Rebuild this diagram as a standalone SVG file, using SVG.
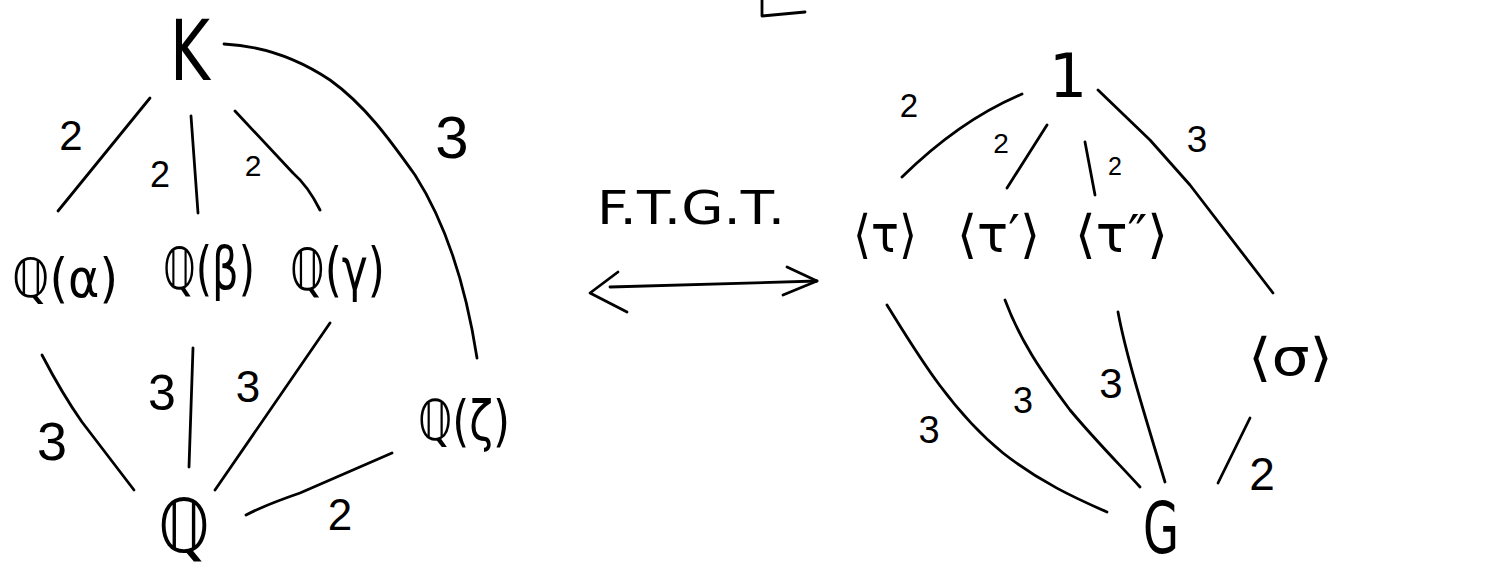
<svg xmlns="http://www.w3.org/2000/svg" width="1510" height="571" viewBox="0 0 1510 571">
  <style>
    .edge { fill: none; stroke: #000; stroke-width: 2.8; stroke-linecap: round; stroke-linejoin: round; }
    .node { font-family: "DejaVu Sans", "Liberation Sans", sans-serif; fill: #000; }
    .lbl { font-family: "Liberation Sans", "DejaVu Sans", sans-serif; fill: #000; text-anchor: middle; }
  </style>
  <rect width="1510" height="571" fill="#fff"/>

  <!-- stroke fragment at the top edge -->
  <path class="edge" d="M762,0 L762,16 L805,12"/>

  <!-- field lattice (left) -->
  <g id="node-K"><text class="node" x="170" y="80" font-size="84" textLength="40" lengthAdjust="spacingAndGlyphs">K</text></g>
  <g id="node-Qalpha"><text class="node" x="12" y="297" font-size="54" textLength="106" lengthAdjust="spacingAndGlyphs">ℚ(α)</text></g>
  <g id="node-Qbeta"><text class="node" x="163" y="289" font-size="58" textLength="92" lengthAdjust="spacingAndGlyphs">ℚ(β)</text></g>
  <g id="node-Qgamma"><text class="node" x="290" y="290" font-size="58" textLength="95" lengthAdjust="spacingAndGlyphs">ℚ(γ)</text></g>
  <g id="node-Qzeta"><text class="node" x="418" y="440" font-size="56" textLength="92" lengthAdjust="spacingAndGlyphs">ℚ(ζ)</text></g>
  <g id="node-Q"><text class="node" x="158" y="552" font-size="74" textLength="52" lengthAdjust="spacingAndGlyphs">ℚ</text></g>

  <!-- correspondence -->
  <g id="node-ftgt">
    <text class="node" x="597" y="224" font-size="46" textLength="188" lengthAdjust="spacingAndGlyphs">F.T.G.T.</text>
  </g>

  <!-- subgroup lattice (right) -->
  <g id="node-1"><text class="node" x="1068" y="97" font-size="60" text-anchor="middle">1</text></g>
  <g id="node-tau"><text class="node" x="853" y="252" font-size="52" textLength="64" lengthAdjust="spacingAndGlyphs">⟨τ⟩</text></g>
  <g id="node-tau1"><text class="node" x="957" y="252" font-size="52" textLength="83" lengthAdjust="spacingAndGlyphs">⟨τ′⟩</text></g>
  <g id="node-tau2"><text class="node" x="1075" y="252" font-size="52" textLength="93" lengthAdjust="spacingAndGlyphs">⟨τ″⟩</text></g>
  <g id="node-sigma"><text class="node" x="1248" y="375" font-size="52" textLength="85" lengthAdjust="spacingAndGlyphs">⟨σ⟩</text></g>
  <g id="node-G"><text class="node" x="1143" y="553" font-size="72" textLength="36" lengthAdjust="spacingAndGlyphs">G</text></g>

  <g id="connectors">
    <!-- left lattice -->
    <path class="edge" d="M150,98 L58,211"/>
    <path class="edge" d="M191,116 L198,213"/>
    <path class="edge" d="M235,111 L293,173 Q308,186 320,210"/>
    <path class="edge" d="M224,44 C265,46 300,60 330,80 C365,105 390,140 415,175 C445,222 465,280 477,358"/>
    <path class="edge" d="M42,355 C55,380 70,405 82,422 L134,490"/>
    <path class="edge" d="M193,348 L189,467"/>
    <path class="edge" d="M330,323 L215,490"/>
    <path class="edge" d="M246,515 Q265,505 300,493 L392,453"/>

    <!-- double arrow -->
    <path class="edge" d="M610,287 L817,281"/>
    <path class="edge" d="M618,272 L590,293 L627,312"/>
    <path class="edge" d="M787,267 L817,281 L783,295"/>

    <!-- right lattice -->
    <path class="edge" d="M1022,94 Q960,120 902,177"/>
    <path class="edge" d="M1047,125 L1007,188"/>
    <path class="edge" d="M1085,142 L1095,195"/>
    <path class="edge" d="M1098,90 L1150,140 L1190,185 L1273,293"/>
    <path class="edge" d="M887,305 C915,350 950,410 1003,453 C1040,482 1075,498 1107,512"/>
    <path class="edge" d="M1005,300 C1020,340 1040,370 1070,410 C1095,440 1120,465 1140,487"/>
    <path class="edge" d="M1118,312 C1125,350 1140,400 1165,482"/>
    <path class="edge" d="M1250,418 L1218,483"/>

    <!-- edge indices -->
    <text class="lbl" x="71" y="150" font-size="42">2</text>
    <text class="lbl" x="160" y="187" font-size="36">2</text>
    <text class="lbl" x="253" y="176" font-size="30">2</text>
    <text class="lbl" x="452" y="158" font-size="60">3</text>
    <text class="lbl" x="52" y="460" font-size="54">3</text>
    <text class="lbl" x="162" y="410" font-size="50">3</text>
    <text class="lbl" x="248" y="402" font-size="44">3</text>
    <text class="lbl" x="340" y="530" font-size="44">2</text>

    <text class="lbl" x="909" y="117" font-size="33">2</text>
    <text class="lbl" x="1001" y="153" font-size="28">2</text>
    <text class="lbl" x="1115" y="175" font-size="25">2</text>
    <text class="lbl" x="1197" y="152" font-size="37">3</text>
    <text class="lbl" x="929" y="443" font-size="38">3</text>
    <text class="lbl" x="1023" y="413" font-size="36">3</text>
    <text class="lbl" x="1111" y="398" font-size="42">3</text>
    <text class="lbl" x="1262" y="490" font-size="46">2</text>
  </g>
</svg>
